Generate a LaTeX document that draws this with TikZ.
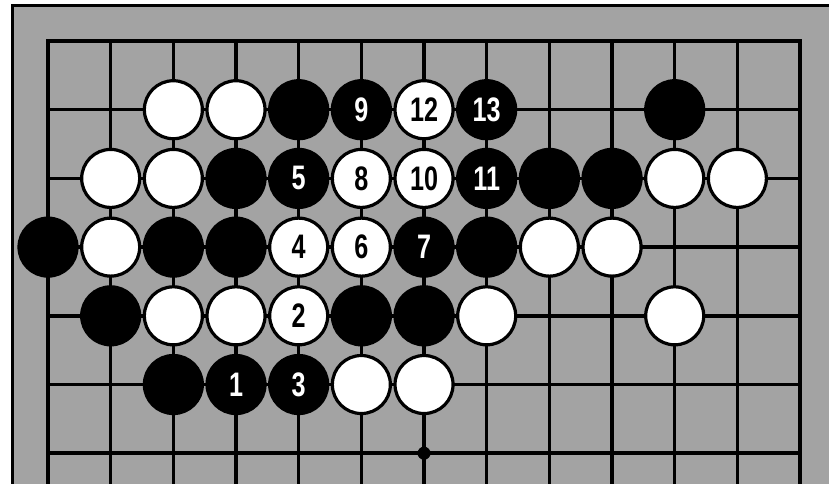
\documentclass[tikz,border=0pt]{standalone}
\usepackage{fontspec}
\newfontfamily\stonefont{Liberation Sans}[FakeStretch=0.74]
\def\cellW{62.67pt}
\def\cellH{68.7pt}
\def\stoneSize{58pt}
\def\boardLen{6.7}
\newcommand{\GoBoardStyles}{
  \tikzset{
    gridline/.style={draw=black, line width=3.5pt, line join=miter},
    framebox/.style={draw=black, line width=3pt, fill=black!36},
    stone/.style={
      circle,
      line width=3.2pt,
      minimum size=\stoneSize,
      inner sep=0pt,
      font=\stonefont\bfseries\fontsize{34}{34}\selectfont
    },
    blackstone/.style={stone, draw=black, fill=black, text=white},
    whitestone/.style={stone, draw=black, fill=white, text=black},
    hoshi/.style={circle, fill=black, minimum size=13pt, inner sep=0pt}
  }
}

\begin{document}
\begin{tikzpicture}[x=\cellW, y=-\cellH]
  \GoBoardStyles
  \clip (-0.766,-0.597) rectangle (12.462,6.434);

  % halftone frame
  \path[framebox] (-0.574,-0.51) rectangle (12.8,7.0);

  % board lines
  \draw[gridline] (0,\boardLen) |- (12,0) -- (12,\boardLen);
  \foreach \c in {1,...,11}
    \draw[gridline] (\c,0) -- (\c,\boardLen);
  \foreach \r in {1,...,6}
    \draw[gridline] (0,\r) -- (12,\r);
  \node[hoshi] (hoshi) at (6,6) {};

  % black stones
  \foreach \c/\r/\num in {4/1/{}, 5/1/9, 7/1/13, 10/1/{},
      3/2/{}, 4/2/5, 7/2/11, 8/2/{}, 9/2/{},
      0/3/{}, 2/3/{}, 3/3/{}, 6/3/7, 7/3/{},
      1/4/{}, 5/4/{}, 6/4/{},
      2/5/{}, 3/5/1, 4/5/3}
    \node[blackstone] (b-\c-\r) at (\c,\r) {\num};

  % white stones
  \foreach \c/\r/\num in {2/1/{}, 3/1/{}, 6/1/12,
      1/2/{}, 2/2/{}, 5/2/8, 6/2/10, 10/2/{}, 11/2/{},
      1/3/{}, 4/3/4, 5/3/6, 8/3/{}, 9/3/{},
      2/4/{}, 3/4/{}, 4/4/2, 7/4/{}, 10/4/{},
      5/5/{}, 6/5/{}}
    \node[whitestone] (w-\c-\r) at (\c,\r) {\num};
\end{tikzpicture}
\end{document}
